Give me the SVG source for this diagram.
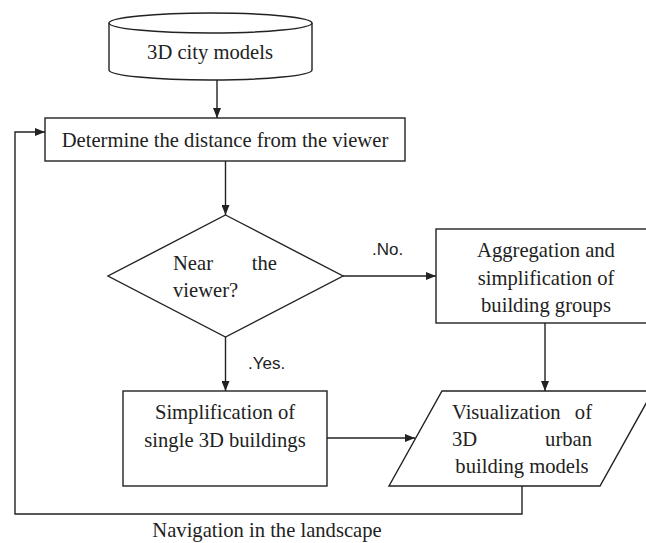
<svg xmlns="http://www.w3.org/2000/svg" width="646" height="543" viewBox="0 0 646 543">
<defs>
<style>
.s{fill:#fff;stroke:#222;stroke-width:1.4}
.t{font-family:"Liberation Serif","Times New Roman",serif;font-size:20.6px;fill:#222}
.m{text-anchor:middle}
.e{text-anchor:end}
.l{font-family:"Liberation Sans",Arial,sans-serif;font-size:17px;fill:#222}
.c{fill:none;stroke:#222;stroke-width:1.4}
</style>
<marker id="a" markerWidth="10" markerHeight="8" refX="10" refY="4" orient="auto" markerUnits="userSpaceOnUse">
<path d="M0,0 L10,4 L0,8 Z" fill="#222"/>
</marker>
</defs>
<rect width="646" height="543" fill="#fff"/>
<g id="connectors">
<line class="c" x1="217" y1="80" x2="217" y2="118" marker-end="url(#a)"/>
<line class="c" x1="225.5" y1="161" x2="225.5" y2="215" marker-end="url(#a)"/>
<line class="c" x1="343" y1="276" x2="436" y2="276" marker-end="url(#a)"/>
<line class="c" x1="225.5" y1="337" x2="225.5" y2="391" marker-end="url(#a)"/>
<line class="c" x1="545" y1="323" x2="545" y2="391" marker-end="url(#a)"/>
<line class="c" x1="327" y1="438" x2="415" y2="438" marker-end="url(#a)"/>
<polyline class="c" points="522,486 522,514 15,514 15,132 45,132" marker-end="url(#a)"/>
<text class="l" x="372" y="255">.No.</text>
<text class="l" x="248" y="369">.Yes.</text>
<text class="t m" x="267" y="537">Navigation in the landscape</text>
</g>
<g id="cylinder">
<path class="s" d="M109,23 L109,70 A101.5,10 0 0 0 312,70 L312,23"/>
<ellipse class="s" cx="210.5" cy="23" rx="101.5" ry="10"/>
<text class="t m" x="210" y="59">3D city models</text>
</g>
<g id="determine">
<rect class="s" x="45" y="118" width="360" height="43"/>
<text class="t m" x="225" y="147">Determine the distance from the viewer</text>
</g>
<g id="decision">
<polygon class="s" points="225.5,215 343,276 225.5,337 108,276"/>
<text class="t" x="173" y="270">Near</text>
<text class="t e" x="277" y="270">the</text>
<text class="t" x="173" y="297">viewer?</text>
</g>
<g id="aggregation">
<rect class="s" x="436" y="229" width="220" height="94"/>
<text class="t m" x="546" y="257">Aggregation and</text>
<text class="t m" x="546" y="285">simplification of</text>
<text class="t m" x="546" y="312">building groups</text>
</g>
<g id="simplification">
<rect class="s" x="123" y="391" width="204" height="95"/>
<text class="t m" x="225" y="419">Simplification of</text>
<text class="t m" x="225" y="447">single 3D buildings</text>
</g>
<g id="visualization">
<polygon class="s" points="442,391 653,391 600,486 389,486"/>
<text class="t" x="452" y="419">Visualization</text>
<text class="t e" x="592" y="419">of</text>
<text class="t" x="452" y="446">3D</text>
<text class="t e" x="592" y="446">urban</text>
<text class="t m" x="522" y="473">building models</text>
</g>
</svg>
